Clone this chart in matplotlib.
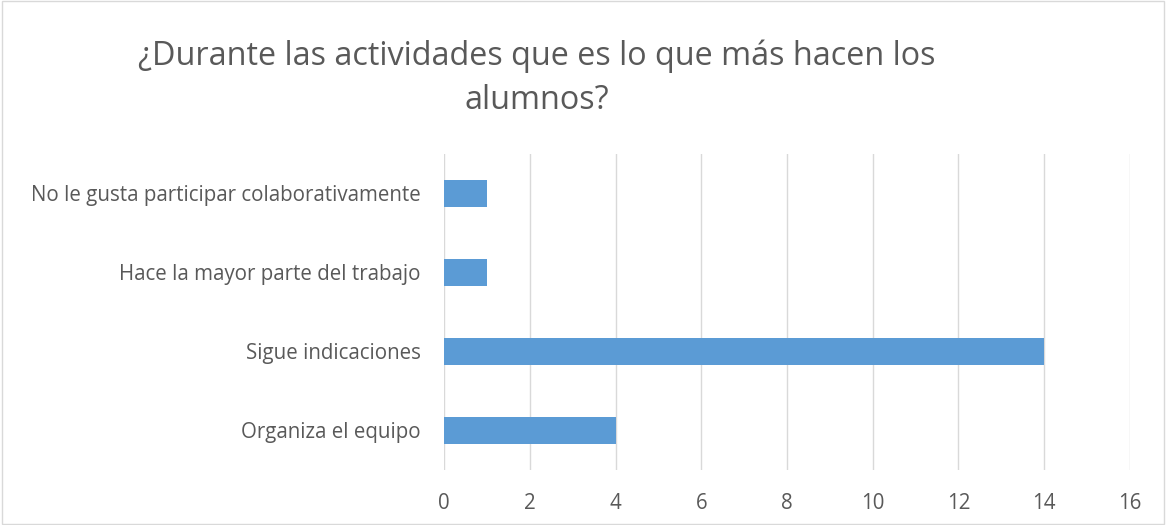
import matplotlib.pyplot as plt

categories = ["Organiza el equipo", "Sigue indicaciones",
              "Hace la mayor parte del trabajo",
              "No le gusta participar colaborativamente"]
values = [4, 14, 1, 1]
xticks = [0, 2, 4, 6, 8, 10, 12, 14, 16]

plt.rcParams['font.family'] = ['Open Sans', 'DejaVu Sans']

fig = plt.figure(figsize=(11.66, 5.25), dpi=100)
ax = fig.add_axes([0.381, 0.105, 0.588, 0.602])

ax.barh(range(len(categories)), values, height=0.35, color='#5b9bd5', zorder=3)

ax.set_xlim(0, 16)
ax.set_ylim(-0.5, len(categories) - 0.5)
ax.set_xticks(xticks)
ax.set_yticks(range(len(categories)))
ax.set_yticklabels(categories)
ax.tick_params(axis='both', length=0, labelsize=14.8, colors='#595959')
ax.tick_params(axis='y', pad=17)
ax.tick_params(axis='x', pad=17)
ax.grid(axis='x', color='#d9d9d9', linewidth=1.0, zorder=0)
for s in ax.spines.values():
    s.set_visible(False)

fig.text(0.46, 0.851, "¿Durante las actividades que es lo que más hacen los\nalumnos?",
         ha='center', va='center', fontsize=23.3, color='#595959', linespacing=1.45)

fig.patches.append(plt.Rectangle((0.002, 0.002), 0.996, 0.996, transform=fig.transFigure,
                                 fill=False, edgecolor='#d9d9d9', linewidth=1))

fig.savefig("out.png", dpi=100)
